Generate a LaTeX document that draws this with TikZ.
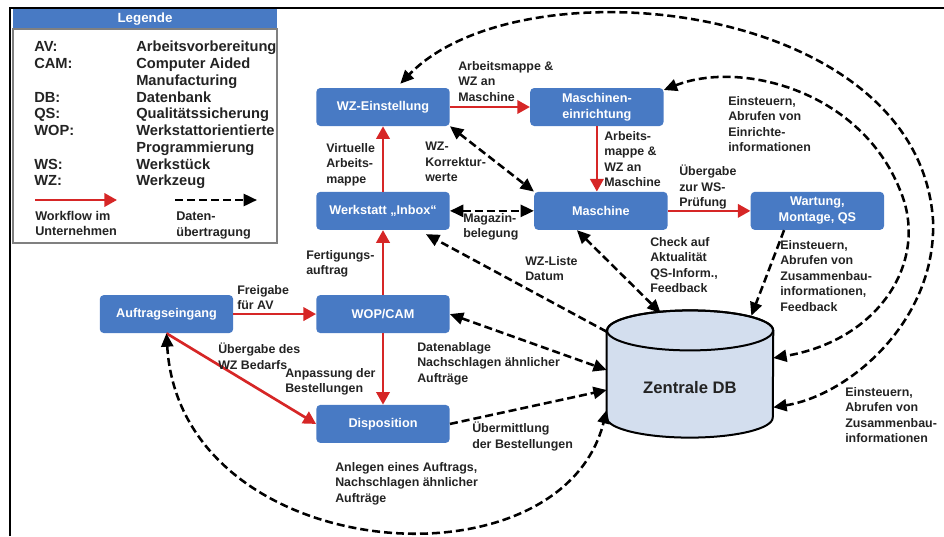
\documentclass[tikz,border=0pt]{standalone}
\usepackage{fontspec}
\setmainfont{Liberation Sans}
\usepackage{tikz}
\usetikzlibrary{arrows.meta,positioning,calc}
\definecolor{boxblue}{RGB}{72,122,196}
\definecolor{flowred}{RGB}{214,38,38}
\definecolor{dbfill}{RGB}{211,222,238}
\definecolor{txtgray}{RGB}{35,35,35}

\begin{document}
\begin{tikzpicture}[x=0.75pt, y=-0.75pt, font=\bfseries\fontsize{9.3}{11.6}\selectfont]
\tikzstyle{proc}=[fill=boxblue, rounded corners=3pt, text=white, align=center, minimum width=100pt, minimum height=28.5pt, inner sep=1pt, font=\bfseries\fontsize{9.5}{12}\selectfont]
\tikzstyle{lbl}=[anchor=north west, align=left, inner sep=0pt, text=txtgray]
\tikzstyle{wf}=[draw=flowred, line width=2pt, >={Triangle[length=9.5pt,width=10pt]}, ->]
\tikzstyle{data}=[line width=1.9pt, dash pattern=on 6pt off 3pt, >={Triangle[length=10pt,width=9pt]}, ->]
\tikzstyle{dbbody}=[minimum width=124.5pt, minimum height=95pt, inner sep=0pt]
\useasboundingbox (0,0) rectangle (944,536);
\draw[line width=1.5pt] (10,536) -- (10,8) -- (944,8);
% Legende
\node[draw=gray, line width=0.8pt, minimum width=198pt, minimum height=160.5pt, inner sep=0pt] (legend) at (145,136) {};
\node[fill=boxblue, text=white, minimum width=198pt, minimum height=14.25pt, inner sep=0pt, font=\bfseries\fontsize{10}{12}\selectfont, above=0pt of legend] (leghead) {Legende};
\node[anchor=north west, inner sep=0pt, text=txtgray, font=\bfseries\fontsize{11}{12.56}\selectfont] (legtab) at (34,40) {%
\begin{tabular}{@{}p{76.5pt}@{}l@{}}
AV: & Arbeitsvorbereitung\\
CAM: & Computer Aided\\
 & Manufacturing\\
DB: & Datenbank\\
QS: & Qualitätssicherung\\
WOP: & Werkstattorientierte\\
 & Programmierung\\
WS: & Werkstück\\
WZ: & Werkzeug
\end{tabular}};
\coordinate (wfa) at (35,200);
\coordinate (wfb) at (117,200);
\coordinate (dta) at (175,200);
\coordinate (dtb) at (257,200);
\draw[wf] (wfa) -- (wfb);
\draw[data] (dta) -- (dtb);
\node[lbl, font=\bfseries\fontsize{9.5}{11.3}\selectfont] (wflbl) at (35,211) {Workflow im\\Unternehmen};
\node[lbl, font=\bfseries\fontsize{9.5}{11.3}\selectfont] (dtlbl) at (176,212) {Daten-\\übertragung};
% Stationen
\node[proc] (wze) at (383,107) {WZ-Einstellung};
\node[proc, right=60pt of wze] (mse) {Maschinen-\\einrichtung};
\node[proc, below=49pt of wze] (inbox) {Werkstatt „Inbox“};
\node[proc, right=63pt of inbox] (masch) {Maschine};
\node[proc, right=62pt of masch] (wart) {Wartung,\\Montage, QS};
\node[proc, below=48.5pt of inbox] (wop) {WOP/CAM};
\node[proc, left=62pt of wop] (auft) {Auftragseingang};
\node[proc, below=53.5pt of wop] (dispo) {Disposition};
\node[dbbody] (db) at (690,374) {};
\draw[line width=1.5pt, fill=dbfill] ([yshift=-15pt]db.north west) -- ([yshift=15pt]db.south west)
  arc[start angle=180, end angle=360, x radius=62.25pt, y radius=15pt]
  -- ([yshift=-15pt]db.north east)
  arc[start angle=0, end angle=180, x radius=62.25pt, y radius=15pt] -- cycle;
\draw[line width=1.5pt] ([yshift=-15pt]db.north) ellipse[x radius=62.25pt, y radius=15pt];
\node[text=txtgray, font=\bfseries\fontsize{12.5}{14}\selectfont] (dbname) at ([yshift=-10pt]db.center) {Zentrale DB};
% Workflow
\draw[wf] (wze) -- (mse);
\draw[wf] (mse.south) -- (mse.south |- masch.north);
\draw[wf] (inbox.north) -- (inbox.north |- wze.south);
\draw[wf] (wop) -- (inbox);
\draw[wf] (auft) -- (wop);
\draw[wf] (wop) -- (dispo);
\draw[wf] (auft.south) -- (dispo.west);
\draw[wf] (masch) -- (wart);
% Datenuebertragung
\draw[data, <->] (wze.south east) -- (masch.north west);
\draw[data, <->] (inbox) -- (masch);
\draw[data] ([yshift=-16pt]db.north west) -- ([xshift=-18pt,yshift=-3pt]inbox.south east);
\draw[data, <->] ([xshift=-18pt]masch.south) -- ([xshift=-22pt,yshift=-2pt]db.north);
\draw[data] ([xshift=-25pt]wart.south) -- ([xshift=46pt,yshift=-4pt]db.north);
\draw[data, <->] (wop.east) -- ([yshift=3pt]db.west);
\draw[data] (dispo.east) -- ([yshift=-12pt]db.west);
\draw[data, <->] (auft.south) .. controls (180,565) and (560,595) .. ([yshift=-27pt]db.west);
\draw[data, <->] ([yshift=12.75pt]mse.east) .. controls (740,60) and (860,90) .. (900,190)
  .. controls (930,260) and (880,340) .. ([yshift=12pt]db.east);
\draw[data, <->] ([yshift=-25pt]db.east) .. controls (850,395) and (937,320) .. (933,220)
  .. controls (918,0) and (520,-40) .. ([xshift=13pt,yshift=3pt]wze.north);
% Beschriftungen
\node[lbl] (l-wzmse) at (458,61) {Arbeitsmappe \&\\WZ an\\Maschine};
\node[lbl] (l-msemasch) at (604,131) {Arbeits-\\mappe \&\\WZ an\\Maschine};
\node[lbl] (l-inboxwze) at (326,143) {Virtuelle\\Arbeits-\\mappe};
\node[lbl] (l-korr) at (425,142) {WZ-\\Korrektur-\\werte};
\node[lbl] (l-magazin) at (463,213) {Magazin-\\belegung};
\node[lbl] (l-pruef) at (679,165) {Übergabe\\zur WS-\\Prüfung};
\node[lbl] (l-einricht) at (728,96) {Einsteuern,\\Abrufen von\\Einrichte-\\informationen};
\node[lbl] (l-wartdb) at (780,240) {Einsteuern,\\Abrufen von\\Zusammenbau-\\informationen,\\Feedback};
\node[lbl] (l-check) at (650,237) {Check auf\\Aktualität\\QS-Inform.,\\Feedback};
\node[lbl] (l-wzliste) at (525,256) {WZ-Liste\\Datum};
\node[lbl] (l-fert) at (306,250) {Fertigungs-\\auftrag};
\node[lbl] (l-freigabe) at (237,285) {Freigabe\\für AV};
\node[lbl] (l-bedarf) at (218,343) {Übergabe des\\WZ Bedarfs};
\node[lbl] (l-anpass) at (285,368) {Anpassung der\\Bestellungen};
\node[lbl] (l-ablage) at (417,342) {Datenablage\\Nachschlagen ähnlicher\\Aufträge};
\node[lbl] (l-uebermittl) at (472,422) {Übermittlung\\der Bestellungen};
\node[lbl] (l-anlegen) at (335,462) {Anlegen eines Auftrags,\\Nachschlagen ähnlicher\\Aufträge};
\node[lbl] (l-zusammen) at (845,387) {Einsteuern,\\Abrufen von\\Zusammenbau-\\informationen};
\end{tikzpicture}
\end{document}
